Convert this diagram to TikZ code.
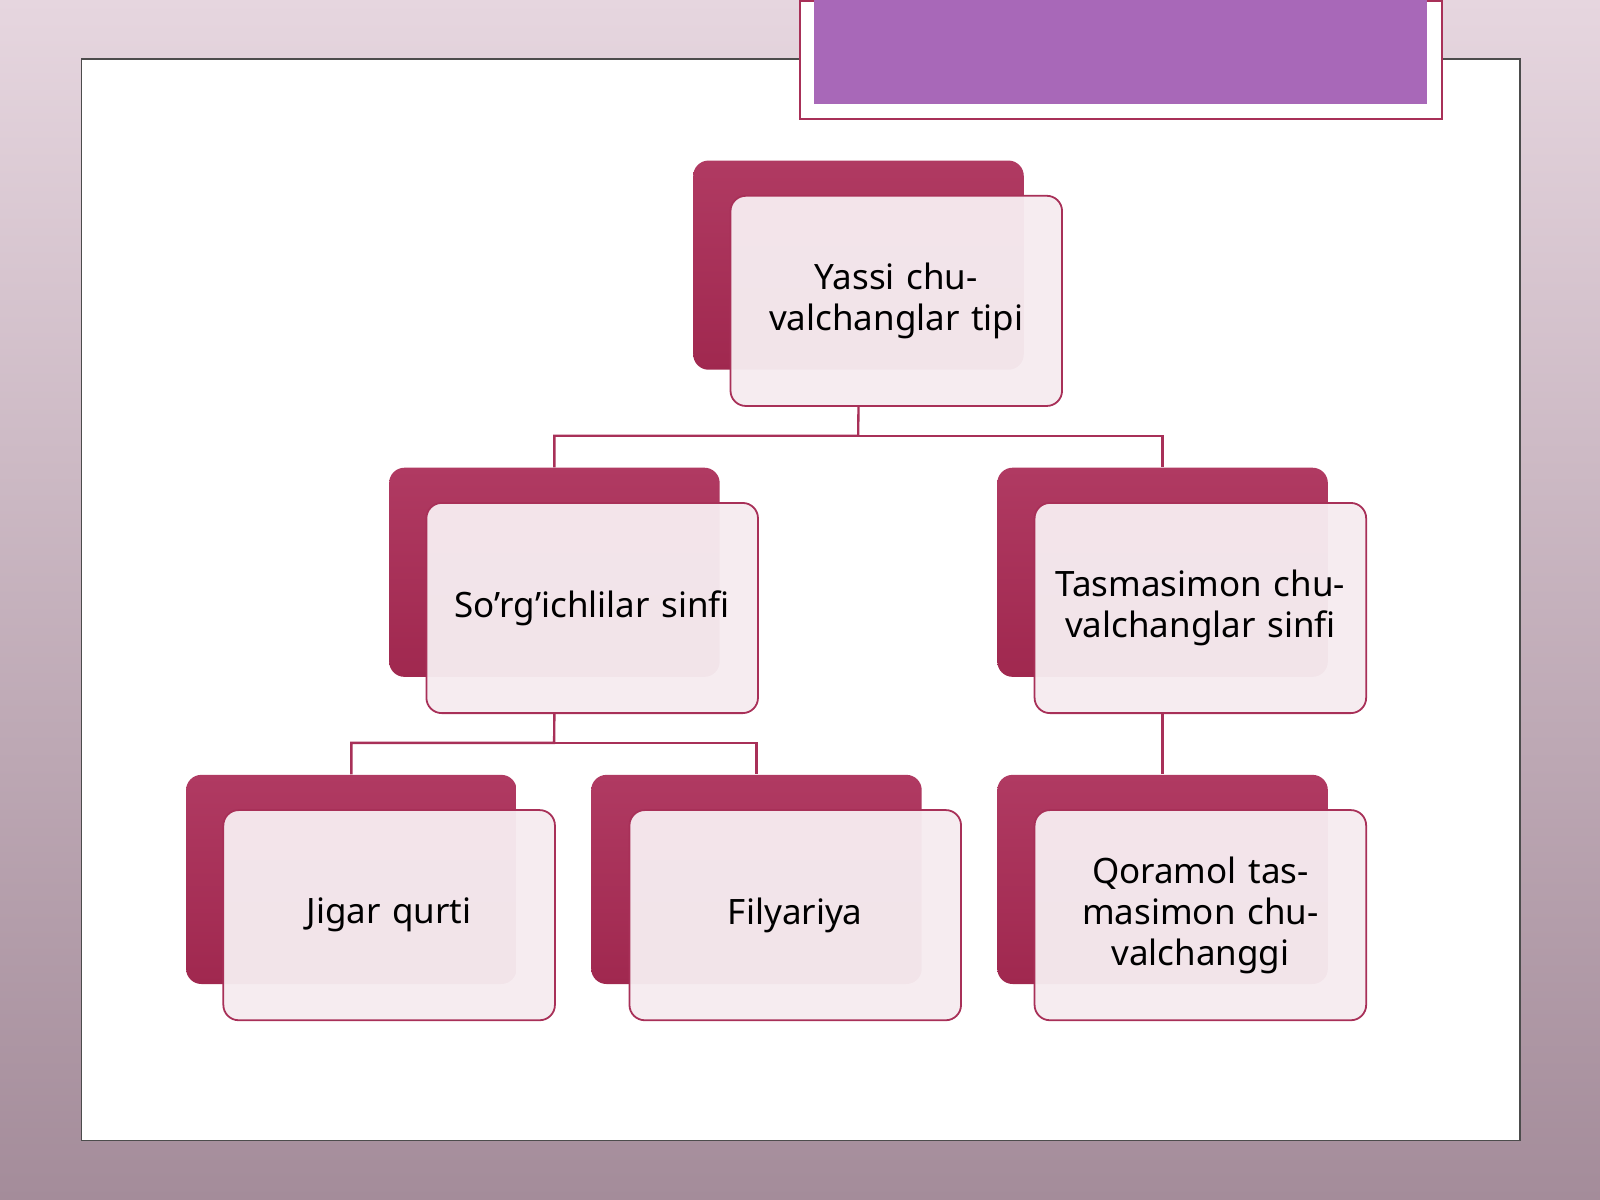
\documentclass[tikz,border=0pt]{standalone}
\usepackage{fontspec}
\setmainfont{Noto Sans}
\usetikzlibrary{positioning,calc}
\definecolor{crim}{HTML}{B03A62}
\definecolor{crimd}{HTML}{A0284F}
\definecolor{crimb}{HTML}{A83058}
\definecolor{frontf}{HTML}{F6ECF0}
\definecolor{purp}{HTML}{A868B8}
\definecolor{bgtop}{HTML}{E6D6DF}
\definecolor{bgbot}{HTML}{A48C9A}
\begin{document}
\begin{tikzpicture}[x=0.02cm,y=-0.02cm,
 back/.style={draw=none,rounded corners=0.3cm,top color=crim,bottom color=crimd,minimum width=6.48cm,minimum height=4.1cm,anchor=north west},
 front/.style={draw=crimb,line width=1pt,rounded corners=0.3cm,fill=frontf,fill opacity=0.96,text opacity=1,minimum width=6.5cm,minimum height=4.12cm,text width=5.9cm,align=center,anchor=north west,font=\fontsize{19.5pt}{23pt}\selectfont},
 conn/.style={draw=crimb,line width=1.3pt}]
\useasboundingbox (0,0) rectangle (1568,1176);
\shade[top color=bgtop,bottom color=bgbot] (0,0) rectangle (1568,1176);
\node[draw=black!70,line width=0.8pt,fill=white,minimum width=28.2cm,minimum height=21.2cm,anchor=north west,inner sep=0] (panel) at (79,57) {};
\node[draw=crimb,line width=1pt,fill=white,minimum width=12.58cm,minimum height=2.32cm,anchor=north west,inner sep=0] (tbox) at (783,0) {};
\node[fill=purp,minimum width=12.02cm,minimum height=2.04cm,anchor=north west,inner sep=0] (tin) at (797,0) {};
% nodes
\node[back] (rb) at (679,157) {};
\node[front] (rf) at (715,191) {Yassi chuvalchanglar tipi};
\node[back] (sb) at (381,458) {};
\node[front] (sf) at (417,492) {So’rg’ichlilar sinfi};
\node[back] (tb) at (977,458) {};
\node[front] (tf) at (1013,492) {Tasmasimon chuvalchanglar sinfi};
\node[back] (jb) at (182,759) {};
\node[front] (jf) at (218,793) {Jigar qurti};
\node[back] (fb) at (579,759) {};
\node[front] (ff) at (616,793) {Filyariya};
\node[back] (qb) at (977,759) {};
\node[front] (qf) at (1013,793) {Qoramol tasmasimon chuvalchanggi};
% connectors
\coordinate (r1) at (841,427);
\coordinate (s1) at (543,728);
\draw[conn] (rb.south |- rf.south) -- (r1) -| (sb.north);
\draw[conn] (r1) -| (tb.north);
\draw[conn] (sb.south |- sf.south) -- (s1) -| (jb.north);
\draw[conn] (s1) -| (fb.north);
\draw[conn] (tb.south |- tf.south) -- (qb.north);
\end{tikzpicture}
\end{document}
